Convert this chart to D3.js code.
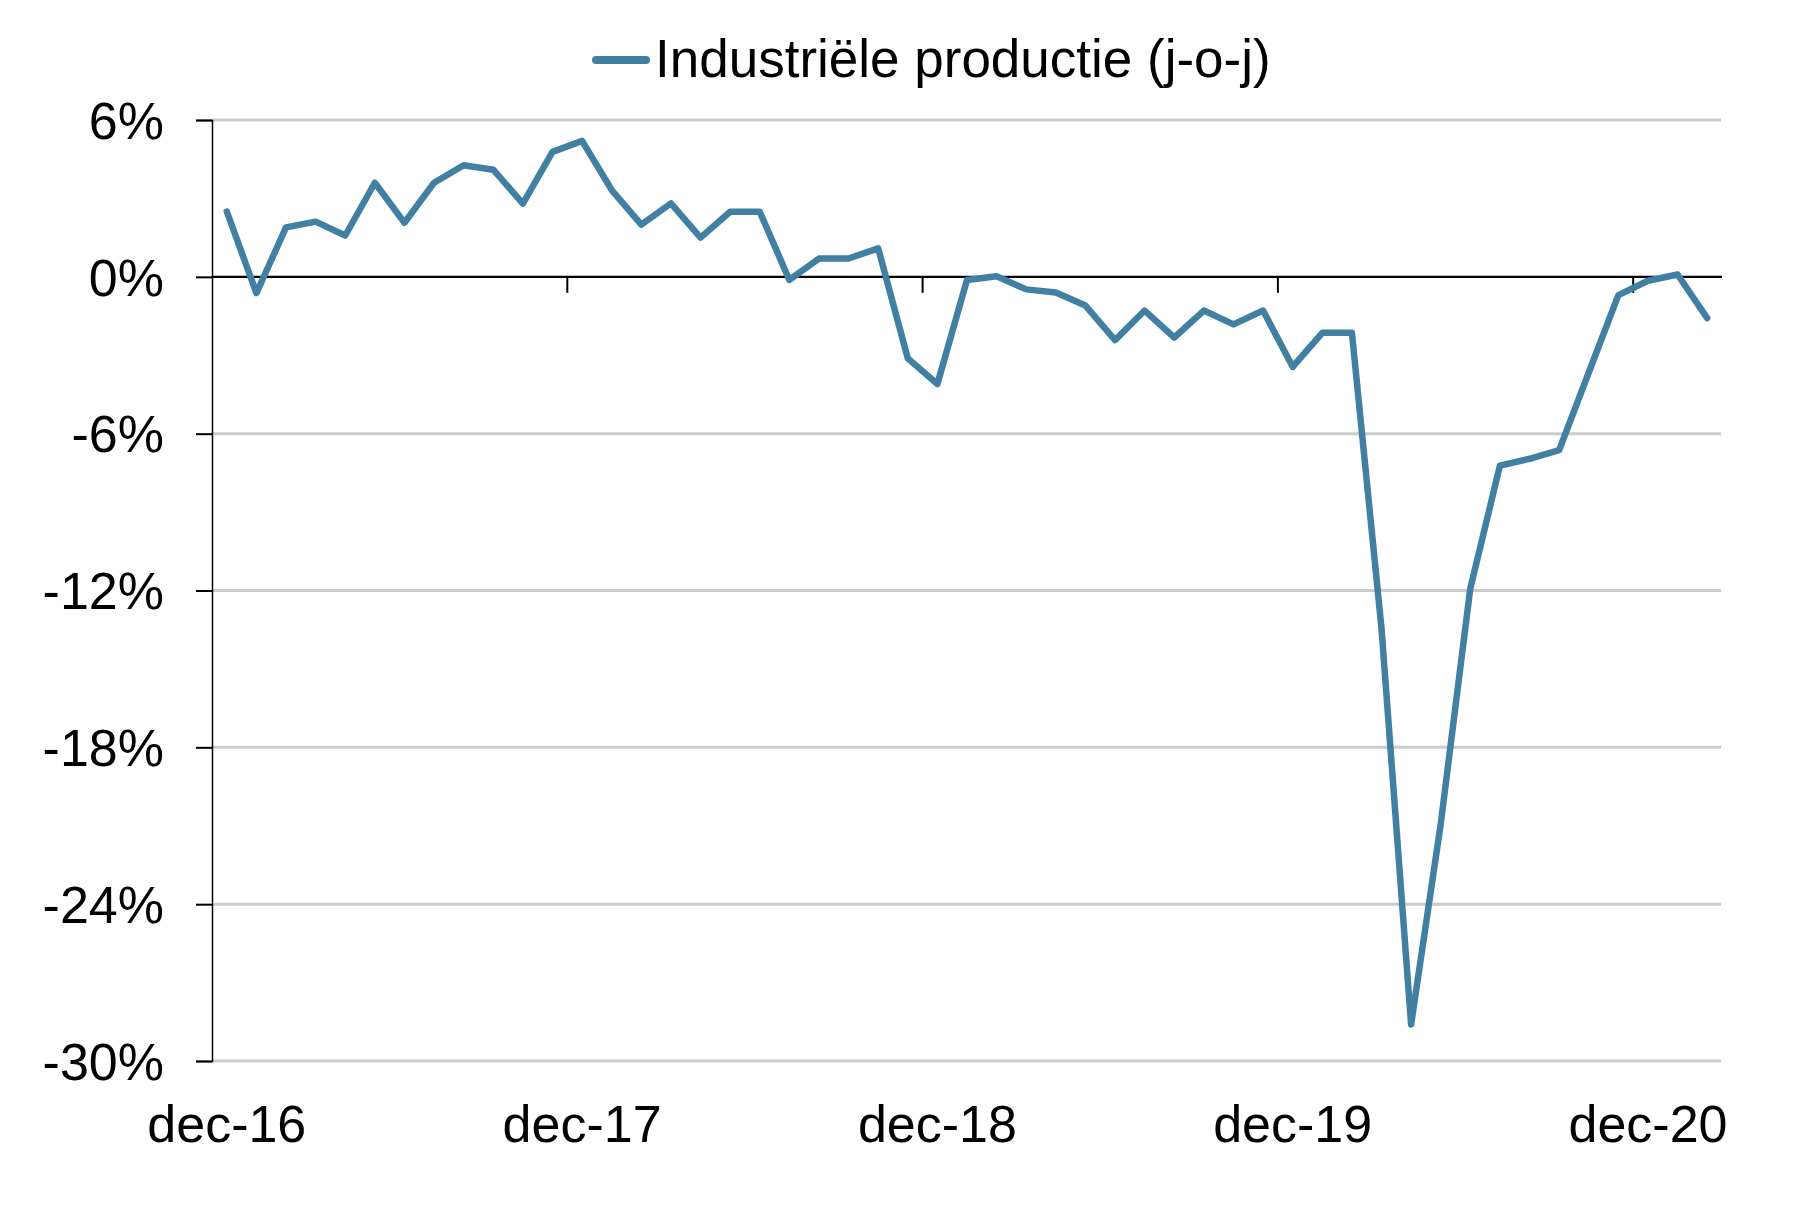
<!DOCTYPE html>
<html>
<head>
<meta charset="utf-8">
<script src="https://cdn.jsdelivr.net/npm/d3@7"></script>
<style>
  html, body { margin: 0; padding: 0; background: #ffffff; }
  svg { display: block; }
  text { font-family: "Liberation Sans", Arial, sans-serif; fill: #000; }
</style>
</head>
<body>
<svg id="chart" width="1806" height="1209"></svg>
<script>
// ---- data ----
const monthNames = ["dec","jan","feb","mrt","apr","mei","jun","jul","aug","sep","okt","nov"];
const categories = [];
for (let i = 0; i < 51; i++) {
  const yr = 16 + Math.floor(i / 12);
  categories.push(monthNames[i % 12] + "-" + yr);
}
const seriesName = "Industriële productie (j-o-j)";
const values = [
  2.5, -0.62, 1.89, 2.11, 1.58, 3.6, 2.07, 3.6, 4.27, 4.1, 2.8, 4.78,
  5.2, 3.32, 2.0, 2.81, 1.5, 2.49, 2.49, -0.12, 0.7, 0.7, 1.09, -3.12,
  -4.1, -0.12, 0.02, -0.48, -0.6, -1.1, -2.42, -1.29, -2.32, -1.29, -1.82, -1.29,
  -3.44, -2.14, -2.14, -13.45, -28.6, -20.93, -11.91, -7.22, -6.96, -6.63, -3.66, -0.7,
  -0.15, 0.09, -1.58
];
const yTicks = [6, 0, -6, -12, -18, -24, -30];
const xLabelIdx = [0, 12, 24, 36, 48];
const xTickIdx = [12, 24, 36, 48];

// ---- layout ----
const svg = d3.select("#chart");
const plotL = 212, plotR = 1722, plotT = 120, plotB = 1061;
const lineColor = "#417FA3";

const x = d3.scaleBand().domain(categories).range([plotL, plotR]).padding(0);
const y = d3.scaleLinear().domain([-30, 6]).range([plotB, plotT]);
const cx = d => x(d) + x.bandwidth() / 2;

// gridlines
svg.append("g").selectAll("line")
  .data(yTicks.filter(t => t !== 0))
  .join("line")
  .attr("x1", plotL).attr("x2", plotR - 1)
  .attr("y1", d => y(d)).attr("y2", d => y(d))
  .attr("stroke", "#cbcbcb").attr("stroke-width", 3);

// y axis
const yAxis = d3.axisLeft(y).tickValues(yTicks).tickSize(16).tickFormat(d => d + "%");
const gy = svg.append("g").attr("transform", `translate(${plotL},0)`).call(yAxis);
gy.select(".domain").attr("stroke", "#000").attr("stroke-width", 1.5);
gy.selectAll(".tick line").attr("stroke", "#000").attr("stroke-width", 2);
gy.selectAll(".tick text")
  .attr("x", -48)
  .attr("dy", "0.35em")
  .style("font-size", "52px")
  .style("font-family", "'Liberation Sans', Arial, sans-serif")
  .attr("fill", "#000");

// zero line
svg.append("line")
  .attr("x1", plotL).attr("x2", plotR)
  .attr("y1", y(0)).attr("y2", y(0))
  .attr("stroke", "#000").attr("stroke-width", 2.2);

// x ticks (between categories) at zero line
svg.append("g").selectAll("line")
  .data(xTickIdx)
  .join("line")
  .attr("x1", d => x(categories[d])).attr("x2", d => x(categories[d]))
  .attr("y1", y(0)).attr("y2", y(0) + 16)
  .attr("stroke", "#000").attr("stroke-width", 2);

// x labels (low position)
svg.append("g").selectAll("text")
  .data(xLabelIdx)
  .join("text")
  .attr("x", d => cx(categories[d]))
  .attr("y", 1142)
  .attr("text-anchor", "middle")
  .style("font-size", "52px")
  .text(d => categories[d]);

// series line
const line = d3.line()
  .x((d, i) => cx(categories[i]))
  .y(d => y(d));
svg.append("path")
  .datum(values)
  .attr("d", line)
  .attr("fill", "none")
  .attr("stroke", lineColor)
  .attr("stroke-width", 6.5)
  .attr("stroke-linejoin", "round")
  .attr("stroke-linecap", "round");

// legend
const lg = svg.append("g");
lg.append("line")
  .attr("x1", 596).attr("x2", 646)
  .attr("y1", 60).attr("y2", 60)
  .attr("stroke", lineColor).attr("stroke-width", 8)
  .attr("stroke-linecap", "round");
lg.append("text")
  .attr("x", 655).attr("y", 77)
  .style("font-size", "53px")
  .text(seriesName);
</script>
</body>
</html>
